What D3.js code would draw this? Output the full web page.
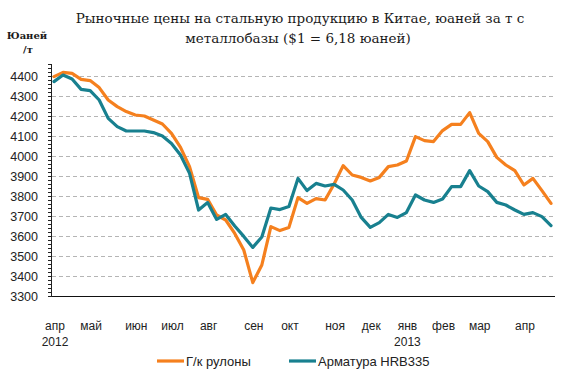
<!DOCTYPE html>
<html><head><meta charset="utf-8">
<script src="https://cdn.jsdelivr.net/npm/d3@7"></script>
<style>body{margin:0;background:#fff}svg{display:block}</style>
</head><body>
<svg id="c" width="580" height="379"></svg>
<script>
// Weekly categories (month label on first week shown)
const categories = ["апр","","","","май","","","","","июн","","","","июл","","","","авг","","","","","сен","","","","окт","","","","","ноя","","","","дек","","","","янв","","","","фев","","","","мар","","","","","апр","","",""];
const yearLabels = {0:"2012", 39:"2013"};
const hotRolled = [4397,4418,4413,4383,4377,4342,4280,4247,4222,4205,4200,4180,4160,4113,4043,3947,3792,3783,3705,3680,3613,3530,3367,3455,3647,3627,3643,3792,3763,3787,3780,3860,3952,3905,3893,3875,3893,3947,3955,3975,4097,4077,4072,4127,4158,4158,4217,4113,4072,3993,3955,3927,3855,3888,3827,3763];
const rebar = [4372,4405,4385,4333,4327,4280,4188,4147,4125,4125,4125,4117,4100,4063,4005,3913,3730,3767,3683,3708,3650,3598,3543,3595,3740,3732,3748,3888,3827,3863,3850,3858,3830,3780,3693,3643,3667,3708,3693,3717,3805,3780,3768,3785,3847,3847,3927,3850,3822,3768,3755,3730,3708,3717,3697,3652];
const yTicks = [3300,3400,3500,3600,3700,3800,3900,4000,4100,4200,4300,4400];
const seriesNames = ["Г/к рулоны","Арматура HRB335"];
const colors = ["#F5801E","#18808F"];

const svg = d3.select("#c");
const x = d3.scaleLinear().domain([0, categories.length-1]).range([54, 551]);
const y = d3.scaleLinear().domain([3300, 4460]).range([296, 64]);
const left = 52, right = 554;

// title
const title = svg.append("g").attr("font-family","DejaVu Serif").attr("font-size","13.5px").attr("fill","#1a1a1a").attr("text-anchor","middle");
title.append("text").attr("x",300).attr("y",23).text("Рыночные цены на стальную продукцию в Китае, юаней за т с");
title.append("text").attr("x",298).attr("y",43).text("металлобазы ($1 = 6,18 юаней)");
const ul = svg.append("g").attr("font-family","DejaVu Serif").attr("font-size","10px").attr("font-weight","bold").attr("fill","#1a1a1a").attr("text-anchor","middle");
ul.append("text").attr("x",27).attr("y",39).text("Юаней");
ul.append("text").attr("x",28).attr("y",53).text("/т");

// grid
svg.append("g").selectAll("line").data(yTicks.filter(d=>d>3300)).join("line")
  .attr("x1",left).attr("x2",right).attr("y1",d=>y(d)).attr("y2",d=>y(d))
  .attr("stroke","#b5b5b5").attr("stroke-width",1).attr("stroke-dasharray","4,3")
  .attr("shape-rendering","crispEdges");

// y axis with minor ticks
const minor = d3.range(3300, 4461, 20);
const yAxis = d3.axisLeft(y).tickValues(minor).tickSize(4).tickFormat(d => yTicks.includes(d) ? d : "");
const gy = svg.append("g").attr("transform",`translate(${left},0)`).call(yAxis);
gy.select(".domain").attr("stroke","#222").attr("d",`M-0.5,${y(4460)}V${y(3300)}`);
gy.selectAll(".tick line").attr("stroke","#222");
gy.selectAll(".tick text").attr("font-family","Liberation Sans, Arial").attr("font-size","12.5px").attr("fill","#222").attr("x",-14).attr("dy","0.36em");

// x axis
const gx = svg.append("g");
gx.append("line").attr("x1",left).attr("x2",right+1).attr("y1",296.5).attr("y2",296.5).attr("stroke","#111").attr("stroke-width",1);
gx.selectAll("text.m").data(categories.map((c,i)=>({c,i})).filter(d=>d.c)).join("text").attr("class","m")
  .attr("x",d=>x(d.i)+1).attr("y",330).attr("text-anchor","middle")
  .attr("font-family","Liberation Sans, Arial").attr("font-size","12px").attr("fill","#222").text(d=>d.c);
gx.selectAll("text.yr").data(Object.entries(yearLabels)).join("text").attr("class","yr")
  .attr("x",d=>x(+d[0])+1).attr("y",346).attr("text-anchor","middle")
  .attr("font-family","Liberation Sans, Arial").attr("font-size","12px").attr("fill","#222").text(d=>d[1]);

// lines
const line = d3.line().x((d,i)=>x(i)).y(d=>y(d)).curve(d3.curveLinear);
[hotRolled, rebar].forEach((s,k)=>{
  svg.append("path").datum(s).attr("d",line).attr("fill","none")
    .attr("stroke",colors[k]).attr("stroke-width",3.2).attr("stroke-linejoin","round").attr("stroke-linecap","round");
});

// legend
const lg = svg.append("g");
const lx = [157, 289];
seriesNames.forEach((n,k)=>{
  lg.append("line").attr("x1",lx[k]).attr("x2",lx[k]+27).attr("y1",361).attr("y2",361).attr("stroke",colors[k]).attr("stroke-width",3.2);
  lg.append("text").attr("x",lx[k]+29).attr("y",365.5).attr("font-family","Liberation Sans, Arial").attr("font-size","13px").attr("fill","#222").text(n);
});
</script>
</body></html>
